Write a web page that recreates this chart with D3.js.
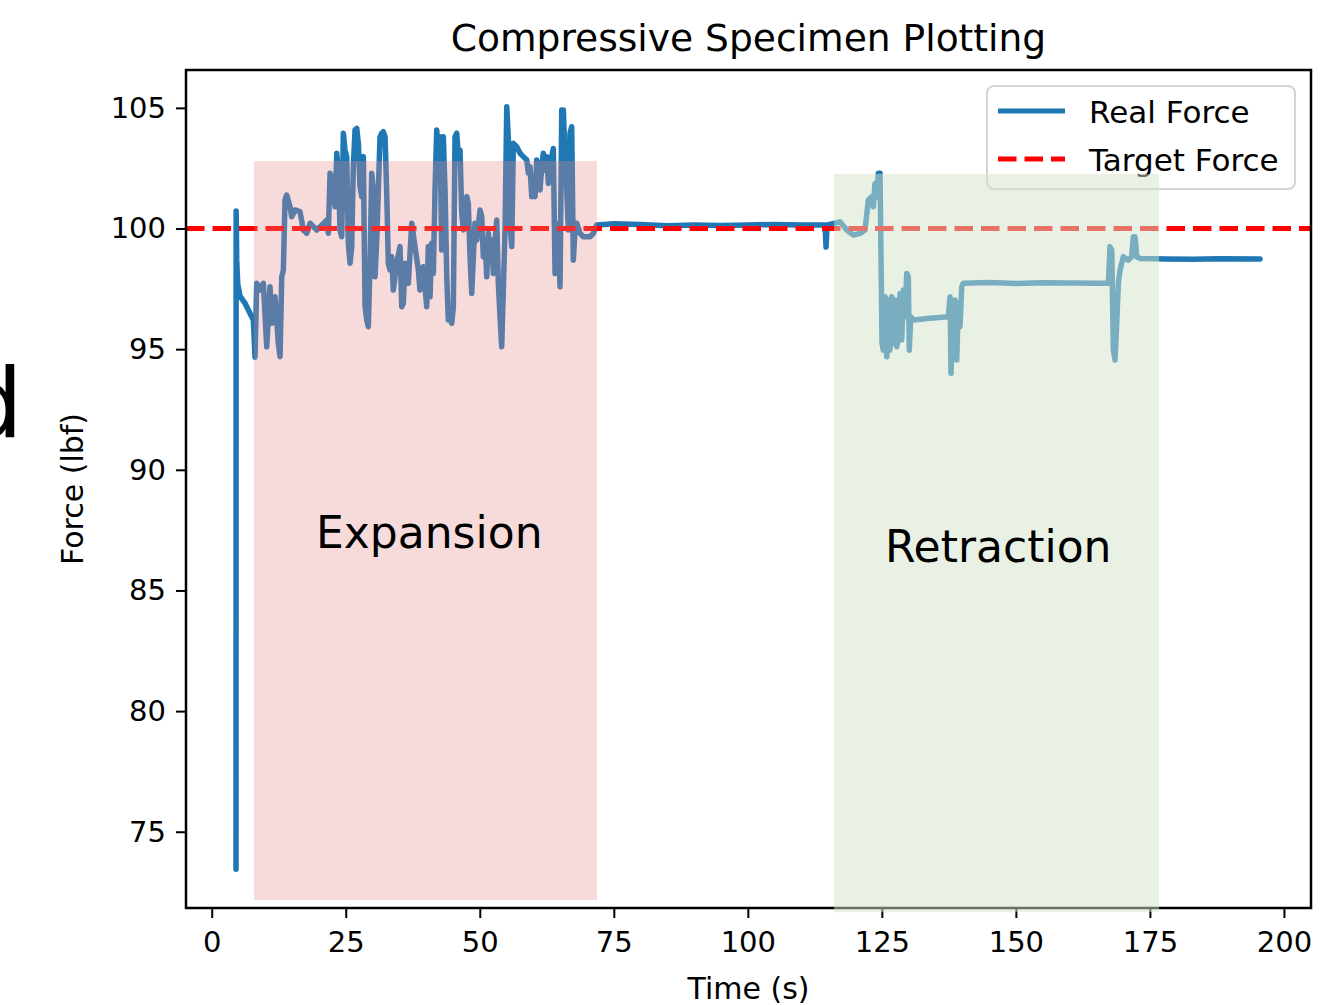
<!DOCTYPE html>
<meta charset="utf-8">
<style>
body { margin: 0; background: #fff; }
text { font-family: "DejaVu Sans", sans-serif; fill: #000; }
</style>
<body>
<script src="https://d3js.org/d3.v7.min.js"></script>
<script>

var time = [4.53, 4.55, 4.62, 4.66, 4.85, 5.28, 6.21, 7.0, 7.76,
  8.08, 8.39, 9.01, 9.63, 10.26, 10.87, 11.19, 11.81, 12.42, 12.74, 13.06, 13.36, 13.67, 13.99,
  14.61, 14.92, 15.54, 16.47, 17.09, 17.71, 18.34, 19.59, 20.20, 21.45, 21.75, 22.07, 22.68,
  23.0, 23.32, 23.62, 23.93, 24.25, 24.55, 24.86, 25.18, 25.48, 25.80, 26.11, 26.41, 26.73,
  27.05, 27.35, 27.66, 27.98, 28.28, 28.60, 28.91, 29.21, 29.53, 29.84, 30.14, 30.46, 30.78,
  31.08, 31.39, 31.71, 32.01, 32.33, 32.64, 32.94, 33.26, 33.58, 33.87, 34.51, 35.12, 35.44,
  35.74, 36.06, 36.67, 37.31, 37.92, 38.54, 38.84, 39.47, 40.10, 40.40, 40.72, 41.04, 41.34,
  41.65, 41.97, 42.27, 42.59, 42.90, 43.20, 43.52, 43.84, 44.13, 44.45, 44.77, 45.07, 45.38,
  45.70, 46.0, 46.32, 46.63, 46.93, 47.25, 47.57, 47.86, 48.18, 48.50, 48.80, 49.11, 49.43,
  50.05, 50.36, 50.66, 50.98, 51.30, 51.60, 51.91, 52.23, 52.53, 52.84, 53.16, 53.46, 53.78,
  54.09, 54.39, 54.71, 55.03, 55.33, 55.64, 55.96, 56.26, 56.89, 57.51, 58.12, 58.76, 59.06,
  59.37, 59.69, 59.99, 60.31, 60.62, 60.92, 61.24, 61.55, 61.85, 62.17, 62.49, 62.79, 63.10,
  63.42, 63.72, 64.04, 64.35, 64.65, 64.97, 65.29, 65.59, 65.90, 66.22, 66.52, 66.83, 67.15,
  67.45, 67.77, 68.08, 68.70, 69.32, 70.56, 71.18, 71.82,
  75, 80, 85, 90, 95, 100, 105, 110, 114.4, 114.59, 114.8,
  116.27, 117.20, 118.45, 119.68, 120.93, 121.86, 122.48, 123.11, 123.41, 123.73, 124.04, 124.34,
  124.66, 125.03, 125.27, 125.59, 125.91, 126.21, 126.53, 126.84, 127.14, 127.46, 127.78, 128.08,
  128.39, 128.71, 129.01, 129.32, 129.64, 129.94, 130.12, 130.39, 130.87, 133.99, 137.41, 137.72,
  137.90, 138.22, 138.65, 138.97, 139.27, 139.58, 139.90, 140.20,
  145, 150, 155, 160, 165, 167.25, 167.56, 167.88, 168.18, 168.49, 168.81, 169.11, 169.43,
  169.75, 170.04, 170.98, 171.61, 171.91, 172.23, 172.55, 173.16, 178, 183, 188, 195.54];

var force = [73.45, 100.73, 99.6, 98.7, 97.7, 97.2, 96.9, 96.55, 96.21,
  94.67, 97.73, 97.45, 97.73, 95.10, 97.59, 96.07, 97.17, 95.24, 94.69, 98.0, 98.28, 101.18, 101.39,
  100.90, 100.49, 100.77, 100.70, 99.94, 99.80, 100.22, 99.94, 100.07, 100.35, 99.80, 102.29, 101.87,
  100.90, 103.12, 102.29, 99.94, 99.66, 103.95, 103.25, 102.98, 99.39, 98.56, 99.25, 102.56, 104.08,
  104.15, 103.53, 101.73, 101.32, 102.98, 96.76, 96.21, 95.93, 98.56, 102.29, 101.60, 98.0, 99.52,
  101.60, 103.80, 103.95, 104.01, 103.80, 101.46, 98.56, 98.28, 98.83, 97.45, 98.56, 99.25, 96.76,
  96.90, 98.56, 97.73, 100.22, 99.25, 98.28, 97.45, 98.42, 96.76, 99.25, 97.17, 99.39, 98.14,
  101.60, 104.08, 102.98, 103.80, 99.11, 103.80, 101.60, 98.0, 96.21, 96.62, 96.07, 96.76, 103.80,
  103.95, 102.98, 103.25, 100.63, 99.94, 101.18, 101.32, 101.04, 98.83, 97.31, 98.83, 100.22, 99.52,
  100.77, 100.49, 98.83, 99.52, 98.0, 99.80, 98.83, 99.52, 98.14, 99.52, 100.35, 97.73, 96.34,
  95.10, 97.45, 99.94, 105.05, 103.67, 100.22, 99.25, 103.53, 103.39, 103.12, 102.98, 102.84, 102.29,
  102.56, 101.32, 102.15, 101.32, 102.84, 102.01, 101.60, 102.56, 103.12, 102.42, 102.98, 101.87, 102.56,
  102.98, 103.32, 98.14, 99.66, 100.22, 97.59, 104.91, 104.91, 102.98, 101.60, 99.94, 103.95, 104.22,
  98.69, 99.94, 100.22, 99.80, 99.66, 99.66, 99.80, 100.15,
  100.2, 100.17, 100.12, 100.15, 100.13, 100.15, 100.17, 100.15, 100.15, 99.23, 100.15,
  100.22, 100.28, 99.94, 99.73, 99.80, 99.94, 101.18, 101.32, 100.90, 101.87, 101.32, 102.29,
  102.29, 95.24, 94.96, 97.17, 94.69, 97.04, 94.96, 97.17, 95.24, 97.04, 95.10, 95.52,
  97.31, 95.38, 97.45, 96.34, 98.14, 98.0, 94.96, 96.34, 96.21, 96.28, 96.34, 97.17,
  94.0, 96.34, 97.04, 94.55, 96.90, 95.93, 97.59, 97.73,
  97.76, 97.72, 97.75, 97.74, 97.73, 97.73, 99.25, 99.11, 94.96, 94.55, 96.07, 97.73, 98.28,
  98.56, 98.83, 98.69, 98.83, 99.66, 99.66, 98.83, 98.76, 98.74, 98.73, 98.75, 98.74];

var targetForce = 100;

var xTicks = [0, 25, 50, 75, 100, 125, 150, 175, 200];
var yTicks = [75, 80, 85, 90, 95, 100, 105];

var seriesNames = ["Real Force", "Target Force"];

// shaded phases (time range and force range they cover)
var phaseNames = ["Expansion", "Retraction"];
var phaseStart = [7.89, 116.08];
var phaseEnd = [71.87, 176.7];
var phaseLow = [72.17, 71.67];
var phaseHigh = [102.80, 102.26];

var W = 1321, H = 1005;
var plot = {left: 186, top: 70, right: 1311, bottom: 908};

var svg = d3.select("body").append("svg")
    .attr("width", W)
    .attr("height", H);

var x = d3.scaleLinear().domain([-4.8, 205.05]).range([plot.left, plot.right]);
var y = d3.scaleLinear().domain([71.84, 106.57]).range([plot.bottom, plot.top]);

var pts = time.map(function(t, i) { return [t, force[i]]; });

var line = d3.line()
    .x(function(d) { return x(d[0]); })
    .y(function(d) { return y(d[1]); });

svg.append("path")
    .datum(pts)
    .attr("d", line)
    .attr("fill", "none")
    .attr("stroke", "#1f77b4")
    .attr("stroke-width", 5.5)
    .attr("stroke-linejoin", "round")
    .attr("stroke-linecap", "round");

svg.append("line")
    .attr("x1", plot.left).attr("x2", plot.right)
    .attr("y1", y(targetForce)).attr("y2", y(targetForce))
    .attr("stroke", "#ff0000")
    .attr("stroke-width", 5)
    .attr("stroke-dasharray", "18.5,8");

// axes
var xAxis = svg.append("g")
    .attr("transform", "translate(0," + plot.bottom + ")")
    .call(d3.axisBottom(x).tickValues(xTicks).tickSize(10).tickPadding(13));
var yAxis = svg.append("g")
    .attr("transform", "translate(" + plot.left + ",0)")
    .call(d3.axisLeft(y).tickValues(yTicks).tickSize(10).tickPadding(10));

[xAxis, yAxis].forEach(function(g) {
  g.select(".domain").remove();
  g.selectAll(".tick line").attr("stroke", "#000").attr("stroke-width", 2);
  g.selectAll(".tick text")
    .attr("font-family", "DejaVu Sans")
    .attr("font-size", 29)
    .attr("fill", "#000");
});

svg.append("rect")
    .attr("x", plot.left).attr("y", plot.top)
    .attr("width", plot.right - plot.left)
    .attr("height", plot.bottom - plot.top)
    .attr("fill", "none")
    .attr("stroke", "#000")
    .attr("stroke-width", 2.5);

// title + axis labels
svg.append("text")
    .attr("x", (plot.left + plot.right) / 2).attr("y", 51)
    .attr("text-anchor", "middle")
    .attr("font-size", 37.6)
    .text("Compressive Specimen Plotting");

svg.append("text")
    .attr("x", (plot.left + plot.right) / 2).attr("y", 999)
    .attr("text-anchor", "middle")
    .attr("font-size", 30)
    .text("Time (s)");

svg.append("text")
    .attr("transform", "translate(83," + 489 + ") rotate(-90)")
    .attr("text-anchor", "middle")
    .attr("font-size", 30)
    .text("Force (lbf)");

// legend
var leg = svg.append("g").attr("transform", "translate(987,86)");
leg.append("rect")
    .attr("width", 308).attr("height", 103)
    .attr("rx", 7)
    .attr("fill", "#fff").attr("fill-opacity", 0.8)
    .attr("stroke", "#d4d4d4").attr("stroke-width", 2);
seriesNames.forEach(function(name, i) {
  var yy = 25 + i * 48;
  leg.append("line")
      .attr("x1", 11).attr("x2", 78)
      .attr("y1", yy).attr("y2", yy)
      .attr("stroke", i === 0 ? "#1f77b4" : "#ff0000")
      .attr("stroke-width", 5)
      .attr("stroke-dasharray", i === 0 ? null : "18.5,8");
  leg.append("text")
      .attr("x", 102).attr("y", yy + 12)
      .attr("font-size", 31)
      .text(name);
});

// shaded phases drawn over the plot
var phaseFill = ["rgb(228,135,135)", "rgb(211,227,203)"];
var phaseOpacity = [0.3, 0.5];
phaseNames.forEach(function(name, i) {
  svg.append("rect")
      .attr("x", x(phaseStart[i]))
      .attr("y", y(phaseHigh[i]))
      .attr("width", x(phaseEnd[i]) - x(phaseStart[i]))
      .attr("height", y(phaseLow[i]) - y(phaseHigh[i]))
      .attr("fill", phaseFill[i])
      .attr("fill-opacity", phaseOpacity[i]);
});

svg.append("text")
    .attr("x", 316).attr("y", 548)
    .attr("font-family", "Lato")
    .attr("font-size", 44)
    .text(phaseNames[0]);
svg.append("text")
    .attr("x", 885).attr("y", 562)
    .attr("font-family", "Lato")
    .attr("font-size", 44)
    .text(phaseNames[1]);

// stray letter cut off at the left edge
svg.append("text")
    .attr("x", 23).attr("y", 437)
    .attr("text-anchor", "end")
    .attr("font-family", "Lato")
    .attr("font-size", 96)
    .text("d");

</script>
</body>
